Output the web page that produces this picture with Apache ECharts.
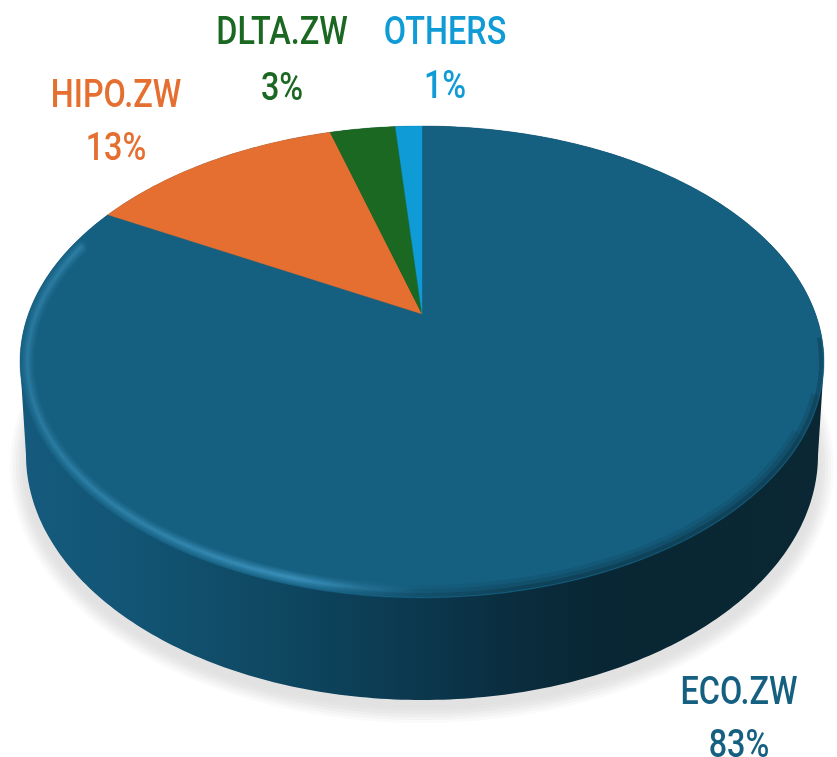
<!DOCTYPE html>
<html><head><meta charset="utf-8">
<style>html,body{margin:0;padding:0;background:#fff}#c{width:837px;height:757px}</style>
<script src="https://cdn.jsdelivr.net/npm/echarts@6/dist/echarts.min.js"></script>
</head><body><div id="c"></div>
<script>
const categories = ['ECO.ZW','HIPO.ZW','DLTA.ZW','OTHERS'];
const shares = [83.0,12.5,3.2,1.3];
const colors = ['#155f80','#e56f30','#1a6822','#0f9bd5'];
const labelNameX = [739,116,282,445];
const labelNameY = [694,97,34,34];
const labelPctY = [747,150,90,88];

// perspective disc geometry
const apexX=422, apexY=314, persp=0.2032, scaleU=393.6, scaleV=226.2;
const topC={x:422,y:362,rx:402,ry:236};
const botC={x:422,y:455,rx:396,ry:245};
const total=shares.reduce((a,b)=>a+b,0);

function project(theta){ // theta clockwise from top, radians
  const u=Math.sin(theta), v=Math.cos(theta), w=1+persp*v;
  return [apexX+scaleU*u/w, apexY-scaleV*v/w];
}
function ell(e,deg,d){d=d||0;const t=deg*Math.PI/180;
  return [e.x+(e.rx-d)*Math.sin(t), e.y-(e.ry-d)*Math.cos(t)];}
function arc(e,a,b,d){const p=[];const n=Math.ceil(Math.abs(b-a));
  for(let i=0;i<=n;i++)p.push(ell(e,a+(b-a)*i/n,d));return p;}
function hGrad(stops){return {type:'linear',x:0,y:0,x2:1,y2:0,global:false,colorStops:stops};}

function renderBody(){
  const kids=[];
  // ground shadow
  const rings=[[412,257,.18],[409,254,.25],[406,251,.35],[403,248,.5],[400,245,.7],[397,242,1]];
  rings.forEach(([rx,ry,o])=>{
    kids.push({type:'polygon',shape:{points:arc({x:422,y:466,rx:rx,ry:ry},0,360)},
      style:{fill:'#e2e2e2',opacity:o}});
  });
  // side wall
  const wall=arc(botC,90,270).concat(arc(topC,270,450));
  kids.push({type:'polygon',shape:{points:wall},style:{fill:hGrad([
    {offset:0,color:'#155a7d'},{offset:.15,color:'#125474'},{offset:.3,color:'#0f4963'},
    {offset:.45,color:'#0c3c54'},{offset:.6,color:'#0a2e40'},{offset:.72,color:'#092634'},{offset:1,color:'#0a2733'}])}});
  return {type:'group',children:kids};
}
function renderSlice(params){
  const i=params.dataIndex;
  let acc=0; for(let k=0;k<i;k++)acc+=shares[k];
  const a0=acc/total*2*Math.PI, a1=(acc+shares[i])/total*2*Math.PI;
  const pts=[[apexX,apexY]], n=Math.ceil((a1-a0)*120);
  for(let k=0;k<=n;k++)pts.push(project(a0+(a1-a0)*k/n));
  return {type:'polygon',shape:{points:pts},style:{fill:colors[i],stroke:colors[i],lineWidth:.4}};
}
function renderRim(){
  const kids=[];
  const lit=[[14,.10],[11,.13],[8,.16],[5,.2],[2.5,.24]];
  lit.forEach(([w,al])=>{
    const c=a=>'rgba(70,160,205,'+(a*al).toFixed(3)+')';
    kids.push({type:'polyline',shape:{points:arc(topC,300,160,7.5)},
      style:{fill:null,lineWidth:w,lineCap:'round',stroke:hGrad([
        {offset:0,color:c(.55)},{offset:.25,color:c(.8)},{offset:.5,color:c(1.25)},{offset:.62,color:c(.5)},{offset:.74,color:c(0)},{offset:1,color:c(0)}])}});
  });
  const shade=[[12,.12,108],[8,.18,98],[4,.3,84]];
  shade.forEach(([w,al,start])=>{
    const c=a=>'rgba(9,38,52,'+(a*al).toFixed(3)+')';
    kids.push({type:'polyline',shape:{points:arc(topC,start,220,1+w/2)},
      style:{fill:null,lineWidth:w,stroke:hGrad([
        {offset:0,color:c(0)},{offset:.25,color:c(0)},{offset:.55,color:c(1)},{offset:1,color:c(1)}])}});
  });
  return {type:'group',children:kids};
}
function renderLabel(params){
  const i=params.dataIndex;
  const font='500 39px Roboto,"Liberation Sans",sans-serif';
  const t=(s,y)=>({type:'text',x:labelNameX[i],y:y,scaleX:.83,
    style:{text:s,fill:colors[i],font:font,align:'center',verticalAlign:'middle'}});
  return {type:'group',children:[t(categories[i],labelNameY[i]),t(Math.round(shares[i])+'%',labelPctY[i])]};
}
const tbl=categories.map((c,i)=>[c,shares[i]]);
const chart=echarts.init(document.getElementById('c'),null,{renderer:'canvas'});
chart.setOption({
  animation:false,
  backgroundColor:'#fff',
  series:[
    {type:'custom',coordinateSystem:'none',z:1,silent:true,data:[0],renderItem:renderBody},
    {type:'custom',coordinateSystem:'none',z:2,name:'share',data:tbl,renderItem:renderSlice},
    {type:'custom',coordinateSystem:'none',z:3,silent:true,data:[0],renderItem:renderRim},
    {type:'custom',coordinateSystem:'none',z:4,data:tbl,renderItem:renderLabel}
  ]
});
</script></body></html>
